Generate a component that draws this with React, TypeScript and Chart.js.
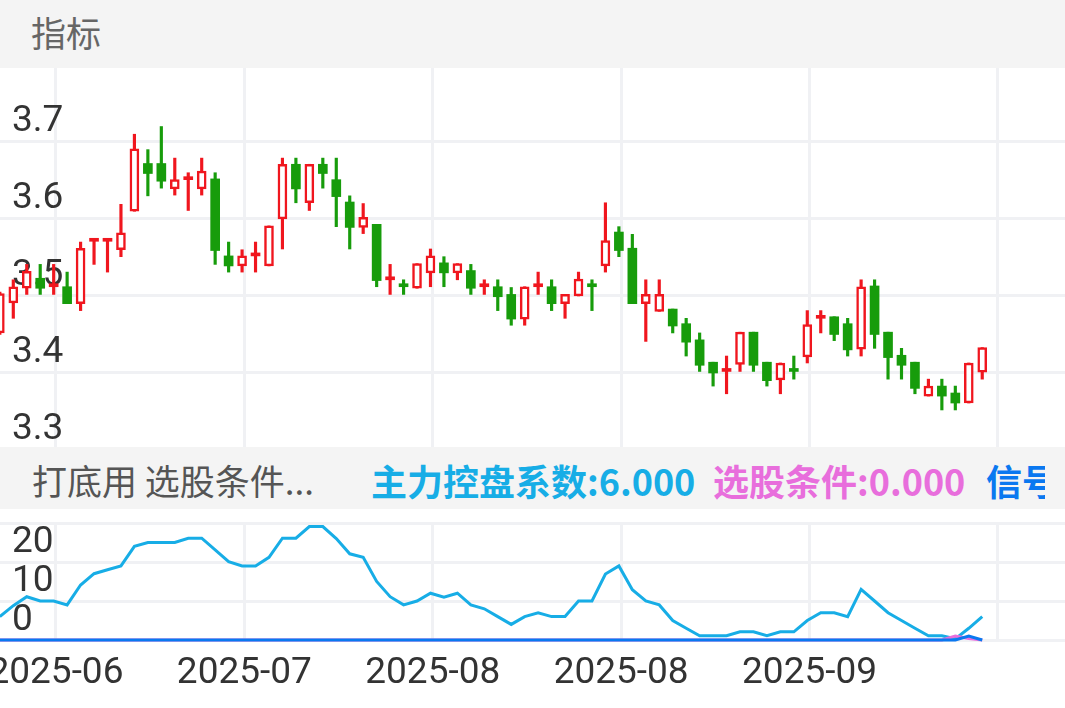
import React, { useEffect, useRef } from 'react';
import { Chart, registerables } from 'chart.js';

Chart.register(...registerables);

// ---- Candle data (one entry per trading day) ----
const OPEN = [
  3.452, 3.491, 3.510, 3.523, 3.512, 3.512, 3.490, 3.571, 3.571, 3.560,
  3.610, 3.672, 3.672, 3.639, 3.651, 3.639, 3.652, 3.552, 3.539, 3.552,
  3.539, 3.600, 3.671, 3.621, 3.671, 3.651, 3.622, 3.589, 3.593, 3.521,
  3.512, 3.510, 3.530, 3.543, 3.530, 3.533, 3.512, 3.512, 3.502, 3.470,
  3.512, 3.512, 3.490, 3.500, 3.512, 3.539, 3.583, 3.562, 3.490, 3.480,
  3.483, 3.464, 3.443, 3.414, 3.402, 3.411, 3.453, 3.414, 3.391, 3.402,
  3.421, 3.471, 3.473, 3.464, 3.431, 3.513, 3.453, 3.423, 3.414, 3.370,
  3.383, 3.374, 3.361, 3.401,
];
const HIGH = [
  3.505, 3.521, 3.541, 3.541, 3.541, 3.531, 3.570, 3.571, 3.572, 3.619,
  3.710, 3.690, 3.720, 3.679, 3.660, 3.679, 3.660, 3.570, 3.560, 3.570,
  3.591, 3.679, 3.679, 3.671, 3.679, 3.679, 3.630, 3.620, 3.593, 3.541,
  3.521, 3.542, 3.561, 3.551, 3.542, 3.541, 3.521, 3.521, 3.511, 3.512,
  3.531, 3.521, 3.502, 3.531, 3.521, 3.621, 3.590, 3.580, 3.521, 3.521,
  3.483, 3.471, 3.452, 3.414, 3.422, 3.453, 3.453, 3.414, 3.413, 3.422,
  3.481, 3.481, 3.473, 3.471, 3.521, 3.521, 3.453, 3.432, 3.414, 3.392,
  3.392, 3.383, 3.413, 3.433,
];
const LOW = [
  3.450, 3.471, 3.502, 3.502, 3.502, 3.490, 3.481, 3.541, 3.531, 3.551,
  3.610, 3.630, 3.640, 3.631, 3.611, 3.631, 3.541, 3.531, 3.531, 3.531,
  3.539, 3.561, 3.621, 3.611, 3.640, 3.590, 3.561, 3.581, 3.512, 3.502,
  3.502, 3.510, 3.512, 3.512, 3.521, 3.502, 3.502, 3.481, 3.462, 3.462,
  3.502, 3.481, 3.471, 3.500, 3.481, 3.531, 3.551, 3.490, 3.441, 3.480,
  3.452, 3.422, 3.402, 3.383, 3.373, 3.402, 3.402, 3.383, 3.373, 3.392,
  3.413, 3.452, 3.442, 3.422, 3.422, 3.432, 3.392, 3.392, 3.373, 3.370,
  3.352, 3.352, 3.361, 3.392,
];
const CLOSE = [
  3.503, 3.512, 3.532, 3.510, 3.512, 3.490, 3.562, 3.571, 3.571, 3.582,
  3.691, 3.659, 3.649, 3.651, 3.651, 3.662, 3.559, 3.539, 3.552, 3.552,
  3.591, 3.671, 3.639, 3.671, 3.659, 3.629, 3.589, 3.602, 3.520, 3.521,
  3.512, 3.542, 3.552, 3.530, 3.542, 3.510, 3.512, 3.499, 3.470, 3.512,
  3.512, 3.490, 3.502, 3.522, 3.512, 3.572, 3.559, 3.490, 3.502, 3.502,
  3.461, 3.440, 3.410, 3.400, 3.402, 3.453, 3.410, 3.390, 3.413, 3.402,
  3.463, 3.471, 3.450, 3.430, 3.512, 3.450, 3.420, 3.410, 3.380, 3.383,
  3.370, 3.361, 3.413, 3.433,
];

// ---- Indicator data ----
const MAIN_FORCE = [
  6.0, 8.8, 11.1, 10.0, 10.0, 9.0, 14.1, 17.0, 18.0, 19.0,
  24.0, 25.0, 25.0, 25.0, 26.1, 26.1, 23.1, 20.1, 19.0, 19.0,
  21.2, 26.1, 26.1, 29.1, 29.1, 26.0, 22.1, 21.2, 15.0, 11.1,
  9.0, 10.0, 12.0, 11.0, 12.0, 9.0, 8.0, 6.0, 4.0, 6.0,
  7.0, 6.0, 6.0, 10.0, 10.0, 16.9, 19.0, 12.9, 10.0, 9.0,
  5.0, 3.0, 1.1, 1.1, 1.1, 2.1, 2.1, 1.1, 2.1, 2.1,
  5.0, 7.0, 7.0, 6.0, 13.0, 10.0, 7.0, 5.0, 3.0, 1.1,
  1.1, 0.3, 3.0, 6.0,
];
const PICK = [
  0, 0, 0, 0, 0, 0, 0, 0, 0, 0,
  0, 0, 0, 0, 0, 0, 0, 0, 0, 0,
  0, 0, 0, 0, 0, 0, 0, 0, 0, 0,
  0, 0, 0, 0, 0, 0, 0, 0, 0, 0,
  0, 0, 0, 0, 0, 0, 0, 0, 0, 0,
  0, 0, 0, 0, 0, 0, 0, 0, 0, 0,
  0, 0, 0, 0, 0, 0, 0, 0, 0, 0,
  0, 1.0, 0.4, 0,
];
const SIGNAL = [
  0, 0, 0, 0, 0, 0, 0, 0, 0, 0,
  0, 0, 0, 0, 0, 0, 0, 0, 0, 0,
  0, 0, 0, 0, 0, 0, 0, 0, 0, 0,
  0, 0, 0, 0, 0, 0, 0, 0, 0, 0,
  0, 0, 0, 0, 0, 0, 0, 0, 0, 0,
  0, 0, 0, 0, 0, 0, 0, 0, 0, 0,
  0, 0, 0, 0, 0, 0, 0, 0, 0, 0,
  0, 0, 1.0, 0,
];

// ---- Axis ticks ----
const X_TICK_INDEX = [4.17, 18.17, 32.17, 46.17, 60.17, 74.17];
const X_TICK_LABELS = ['2025-06', '2025-07', '2025-08', '2025-08', '2025-09', ''];
const PRICE_TICKS = [3.3, 3.4, 3.5, 3.6, 3.7];
const IND_TICKS = [0, 10, 20, 30];
const IND_TICK_LABELS = ['0', '10', '20', ''];

const RED = '#F0161E';
const GREEN = '#179C0B';
const GRID = '#F0F1F4';
const CYAN = '#17ADE6';
const PINK = '#E86EDC';
const BLUE = '#0A78F0';
const X_MIN = 0.012;
const X_MAX = 79.15;

function isUp(i: number): boolean {
  if (CLOSE[i] !== OPEN[i]) return CLOSE[i] > OPEN[i];
  return i === 0 || CLOSE[i] >= CLOSE[i - 1];
}

function zeroPadding(s: any) {
  s.paddingTop = 0;
  s.paddingBottom = 0;
  s.paddingLeft = 0;
  s.paddingRight = 0;
}

export default function App() {
  const mainRef = useRef<HTMLCanvasElement | null>(null);
  const indRef = useRef<HTMLCanvasElement | null>(null);

  useEffect(() => {
    document.body.style.margin = '0';
    const idx = OPEN.map((_, i) => i);
    const xScaleBase = {
      type: 'linear' as const,
      min: X_MIN,
      max: X_MAX,
      offset: false,
      afterBuildTicks: (s: any) => {
        s.ticks = X_TICK_INDEX.map((v) => ({ value: v }));
      },
      grid: { color: GRID, lineWidth: 3, drawTicks: false, offset: false },
      border: { display: false },
    };

    const main = new Chart(mainRef.current as HTMLCanvasElement, {
      type: 'bar',
      data: {
        datasets: [
          {
            label: 'body',
            data: idx.map((i) => ({ x: i, y: [OPEN[i], CLOSE[i]] })) as any,
            backgroundColor: idx.map((i) => (CLOSE[i] > OPEN[i] ? '#FFFFFF' : isUp(i) ? RED : GREEN)),
            borderColor: idx.map((i) => (isUp(i) ? RED : GREEN)),
            borderWidth: idx.map((i) => (CLOSE[i] > OPEN[i] ? 2.5 : 0)),
            borderSkipped: false,
            barThickness: 9,
            minBarLength: 3,
            grouped: false,
            order: 1,
          } as any,
          {
            label: 'wick',
            data: idx.map((i) => ({ x: i, y: [LOW[i], HIGH[i]] })) as any,
            backgroundColor: idx.map((i) => (isUp(i) ? RED : GREEN)),
            borderWidth: 0,
            barThickness: 2.5,
            grouped: false,
            order: 2,
          } as any,
        ],
      },
      options: {
        responsive: false,
        animation: false,
        layout: { padding: 0, autoPadding: false } as any,
        plugins: { legend: { display: false }, tooltip: { enabled: false } },
        scales: {
          x: {
            ...xScaleBase,
            afterFit: (s: any) => {
              s.height = 0;
              zeroPadding(s);
            },
            ticks: { display: false },
          } as any,
          y: {
            type: 'linear',
            min: 3.3,
            max: 3.796,
            afterBuildTicks: (s: any) => {
              s.ticks = PRICE_TICKS.map((v) => ({ value: v }));
            },
            afterFit: (s: any) => {
              s.width = 0;
              zeroPadding(s);
            },
            ticks: {
              mirror: true,
              autoSkip: false,
              padding: 12,
              labelOffset: -20,
              color: '#333333',
              font: { family: 'Roboto', size: 37 },
              callback: (v: any) => Number(v).toFixed(1),
            },
            grid: { color: GRID, lineWidth: 3, drawTicks: false },
            border: { display: false },
          } as any,
        },
      },
    });

    const ind = new Chart(indRef.current as HTMLCanvasElement, {
      type: 'line',
      data: {
        datasets: [
          {
            label: '信号',
            data: idx.map((i) => ({ x: i, y: SIGNAL[i] })),
            borderColor: BLUE,
            borderWidth: 3,
            pointRadius: 0,
            order: 1,
            clip: false,
          } as any,
          {
            label: '选股条件',
            data: idx.map((i) => ({ x: i, y: PICK[i] })),
            borderColor: PINK,
            borderWidth: 3,
            pointRadius: 0,
            order: 2,
            clip: false,
          } as any,
          {
            label: '主力控盘系数',
            data: idx.map((i) => ({ x: i, y: MAIN_FORCE[i] })),
            borderColor: CYAN,
            borderWidth: 3,
            pointRadius: 0,
            order: 3,
          } as any,
        ],
      },
      options: {
        responsive: false,
        animation: false,
        layout: { padding: { top: 14, left: 0, right: 0, bottom: 0 }, autoPadding: false } as any,
        plugins: { legend: { display: false }, tooltip: { enabled: false } },
        scales: {
          x: {
            ...xScaleBase,
            afterFit: (s: any) => {
              s.height = 68;
              zeroPadding(s);
            },
            ticks: {
              padding: 12,
              color: '#333333',
              font: { family: 'Roboto', size: 37 },
              maxRotation: 0,
              autoSkip: false,
              callback: (_v: any, i: number) => X_TICK_LABELS[i] ?? '',
            },
          } as any,
          y: {
            type: 'linear',
            min: 0,
            max: 30,
            afterBuildTicks: (s: any) => {
              s.ticks = IND_TICKS.map((v) => ({ value: v }));
            },
            afterFit: (s: any) => {
              s.width = 0;
              zeroPadding(s);
            },
            ticks: {
              mirror: true,
              autoSkip: false,
              padding: 12,
              labelOffset: -19,
              color: '#333333',
              font: { family: 'Roboto', size: 37 },
              callback: (_v: any, i: number) => IND_TICK_LABELS[i] ?? '',
            },
            grid: { color: GRID, lineWidth: 3, drawTicks: false },
            border: { display: false },
          } as any,
        },
      },
    });

    return () => {
      main.destroy();
      ind.destroy();
    };
  }, []);

  const cjk = '"Noto Sans CJK SC", "Noto Sans", sans-serif';

  return (
    <div style={{ position: 'fixed', left: 0, top: 0, width: 1065, height: 708, background: '#FFFFFF', overflow: 'hidden' }}>
      <div style={{ position: 'absolute', left: 0, top: 0, width: 1065, height: 68, background: '#F4F4F4' }}>
        <span style={{ position: 'absolute', left: 31, top: 0, lineHeight: '64px', fontFamily: cjk, fontSize: 35, color: '#666666' }}>指标</span>
      </div>
      <canvas ref={mainRef} width={1065} height={382} style={{ position: 'absolute', left: 0, top: 68, width: 1065, height: 382 }} />
      <div style={{ position: 'absolute', left: 0, top: 447, width: 1065, height: 62, background: '#F4F4F4', zIndex: 2 }}>
        <div style={{ position: 'absolute', left: 0, top: 0, width: 1045, height: 62, overflow: 'hidden', whiteSpace: 'nowrap', fontFamily: cjk, fontSize: 35, lineHeight: '66px' }}>
          <span style={{ position: 'absolute', left: 32, color: '#555555' }}>打底用 选股条件...</span>
          <span style={{ position: 'absolute', left: 371, color: CYAN, fontWeight: 700, fontSize: 36 }}>主力控盘系数:6.000</span>
          <span style={{ position: 'absolute', left: 713, color: PINK, fontWeight: 700, fontSize: 36 }}>选股条件:0.000</span>
          <span style={{ position: 'absolute', left: 986, color: BLUE, fontWeight: 700, fontSize: 36 }}>信号</span>
        </div>
      </div>
      <canvas ref={indRef} width={1065} height={199} style={{ position: 'absolute', left: 0, top: 509, width: 1065, height: 199 }} />
    </div>
  );
}
